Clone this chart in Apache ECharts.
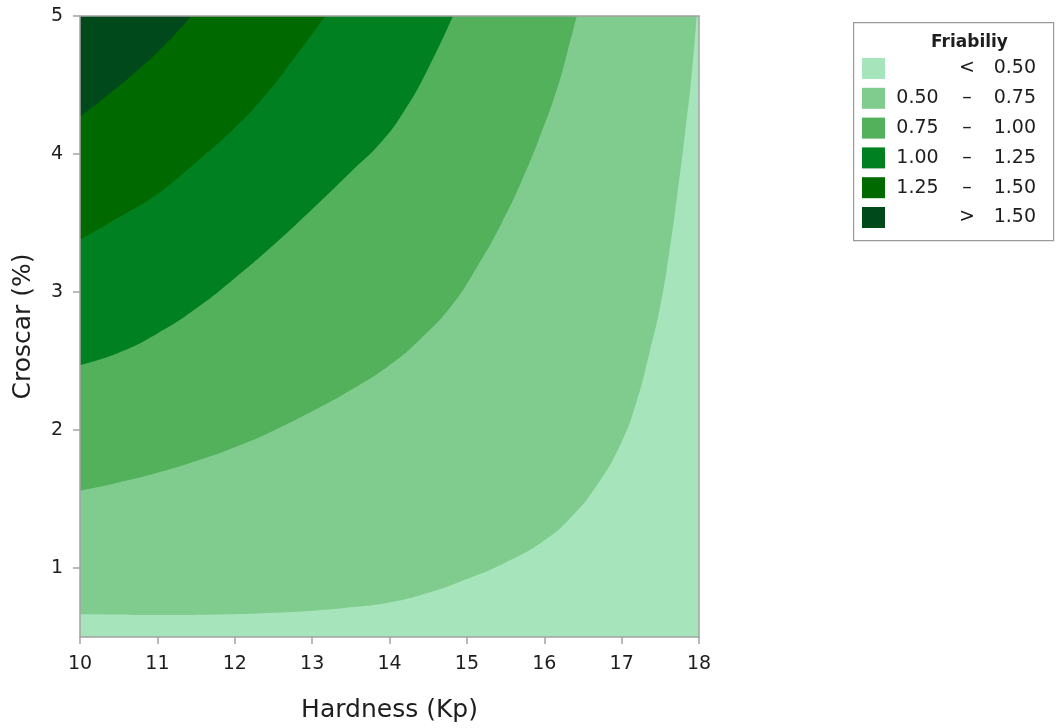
<!DOCTYPE html>
<html>
<head>
<meta charset="utf-8">
<title>Friability contour</title>
<script src="https://cdn.jsdelivr.net/npm/echarts@6/dist/echarts.min.js"></script>
<style>
  html, body { margin: 0; padding: 0; background: #ffffff; }
  #chart { width: 1056px; height: 728px; }
</style>
</head>
<body>
<div id="chart"></div>
<script>
// Axis ticks
const hardnessTicks = [10, 11, 12, 13, 14, 15, 16, 17, 18];
const croscarTicks = [1, 2, 3, 4, 5];

// Contour boundaries of friability: [Hardness (Kp), Croscar (%)]
// The region above each boundary belongs to the next band up.
const floorLine = [[10, 0.5], [18, 0.5]];
const contour050 = [
  [10, 0.665], [11, 0.66], [12, 0.665], [12.5, 0.675], [13, 0.69], [13.5, 0.715],
  [14, 0.75], [14.5, 0.82], [15.0, 0.92], [15.5, 1.04], [16.0, 1.2], [16.35, 1.37],
  [16.68, 1.6], [16.98, 1.89], [17.19, 2.2], [17.36, 2.56], [17.5, 2.9], [17.62, 3.3],
  [17.73, 3.75], [17.83, 4.2], [17.91, 4.6], [17.97, 5]
];
const contour075 = [
  [10, 1.56], [10.5, 1.62], [11, 1.69], [11.5, 1.775], [12, 1.875], [12.5, 1.995],
  [13, 2.135], [13.5, 2.29], [14, 2.47], [14.4, 2.66], [14.8, 2.9], [15.15, 3.2],
  [15.45, 3.5], [15.72, 3.82], [15.96, 4.15], [16.17, 4.48], [16.3, 4.74], [16.42, 5]
];
const contour100 = [
  [10, 2.47], [10.5, 2.56], [11, 2.7], [11.5, 2.88], [12, 3.1], [12.5, 3.34],
  [13, 3.6], [13.5, 3.87], [13.9, 4.09], [14.2, 4.32], [14.5, 4.62], [14.82, 5]
];
const contour125 = [
  [10, 3.38], [10.5, 3.54], [11, 3.71], [11.5, 3.94], [12, 4.19], [12.4, 4.43],
  [12.75, 4.68], [13.17, 5]
];
const contour150 = [
  [10, 4.27], [10.3, 4.4], [10.73, 4.6], [11.08, 4.78], [11.44, 5]
];

// Bands, lightest to darkest
const bandLow  = [null, '0.50', '0.75', '1.00', '1.25', null];
const bandHigh = ['0.50', '0.75', '1.00', '1.25', '1.50', '1.50'];
const bandColors = ['#a6e5bb', '#80cc8f', '#53b05b', '#008021', '#006a00', '#00491a'];
const bandLines = [floorLine, contour050, contour075, contour100, contour125, contour150];

function bandName(i) {
  if (bandLow[i] === null && i === 0) return '< ' + bandHigh[i];
  if (bandLow[i] === null) return '> ' + bandHigh[i];
  return bandLow[i] + ' – ' + bandHigh[i];
}

const FONT = 'DejaVu Sans';
const TEXT = '#1e1e1e';
const AXIS = '#a3a3a3';

const series = bandLines.map((pts, i) => ({
  name: bandName(i),
  type: 'line',
  data: pts,
  color: bandColors[i],
  smooth: 0.5,
  showSymbol: false,
  silent: true,
  lineStyle: { width: 0, color: bandColors[i] },
  itemStyle: { color: bandColors[i] },
  areaStyle: { color: bandColors[i], opacity: 1, origin: 'end' },
  z: 2 + i * 0.01
}));

const chart = echarts.init(document.getElementById('chart'), null, { renderer: 'canvas' });

chart.setOption({
  backgroundColor: '#ffffff',
  animation: false,
  grid: { left: 80, right: 357, top: 16, bottom: 91, containLabel: false },
  xAxis: [{
    type: 'value', min: 10, max: 18, interval: 1, z: 10,
    name: 'Hardness (Kp)', nameLocation: 'middle', nameGap: 61,
    nameTextStyle: { fontFamily: FONT, fontSize: 25, color: TEXT },
    axisLine: { show: true, lineStyle: { color: AXIS, width: 1.5 } },
    axisTick: { show: true, length: 7, lineStyle: { color: AXIS, width: 1.5 } },
    axisLabel: { fontFamily: FONT, fontSize: 19, color: TEXT, margin: 18,
      formatter: v => hardnessTicks.includes(v) ? String(v) : '' },
    splitLine: { show: false }
  }, {
    type: 'value', min: 10, max: 18, position: 'top', z: 10,
    axisLine: { show: true, onZero: false, lineStyle: { color: AXIS, width: 1.5 } },
    axisTick: { show: false }, axisLabel: { show: false }, splitLine: { show: false }
  }],
  yAxis: [{
    type: 'value', min: 0.5, max: 5, z: 10,
    name: 'Croscar (%)', nameLocation: 'middle', nameGap: 44,
    nameTextStyle: { fontFamily: FONT, fontSize: 25, color: TEXT },
    axisLine: { show: true, lineStyle: { color: AXIS, width: 1.5 } },
    axisTick: { show: true, length: 7, customValues: croscarTicks, lineStyle: { color: AXIS, width: 1.5 } },
    axisLabel: { fontFamily: FONT, fontSize: 19, color: TEXT, margin: 17, customValues: croscarTicks,
      formatter: v => croscarTicks.includes(v) ? String(v) : '' },
    splitLine: { show: false }
  }, {
    type: 'value', min: 0.5, max: 5, position: 'right', z: 10,
    axisLine: { show: true, onZero: false, lineStyle: { color: AXIS, width: 1.5 } },
    axisTick: { show: false }, axisLabel: { show: false }, splitLine: { show: false }
  }],
  legend: {
    orient: 'vertical', left: 862, top: 58, padding: 0,
    icon: 'rect', itemWidth: 23, itemHeight: 21, itemGap: 8.8,
    selectedMode: false,
    data: series.map(s => s.name),
    textStyle: {
      fontFamily: FONT, fontSize: 19, color: TEXT,
      rich: {
        a: { fontFamily: FONT, fontSize: 19, color: TEXT, width: 55, align: 'right', lineHeight: 21 },
        b: { fontFamily: FONT, fontSize: 19, color: TEXT, width: 44, align: 'center', lineHeight: 21 },
        c: { fontFamily: FONT, fontSize: 19, color: TEXT, width: 47, align: 'right', lineHeight: 21 }
      }
    },
    formatter: name => {
      const i = series.findIndex(s => s.name === name);
      const lo = bandLow[i] === null ? '\u00a0' : bandLow[i];
      const mid = bandLow[i] === null ? (i === 0 ? '<' : '>') : '–';
      return '{a|' + lo + '}{b|' + mid + '}{c|' + bandHigh[i] + '}';
    }
  },
  graphic: [{
    type: 'rect', left: 853, top: 22, z: 0,
    shape: { width: 200, height: 218 },
    style: { fill: '#ffffff', stroke: '#9a9a9a', lineWidth: 1.2 }
  }, {
    type: 'text', left: 931, top: 34, z: 5,
    style: { text: 'Friabiliy', fontFamily: FONT, fontSize: 17, fontWeight: 'bold', fill: TEXT }
  }],
  series: series
});
</script>
</body>
</html>
